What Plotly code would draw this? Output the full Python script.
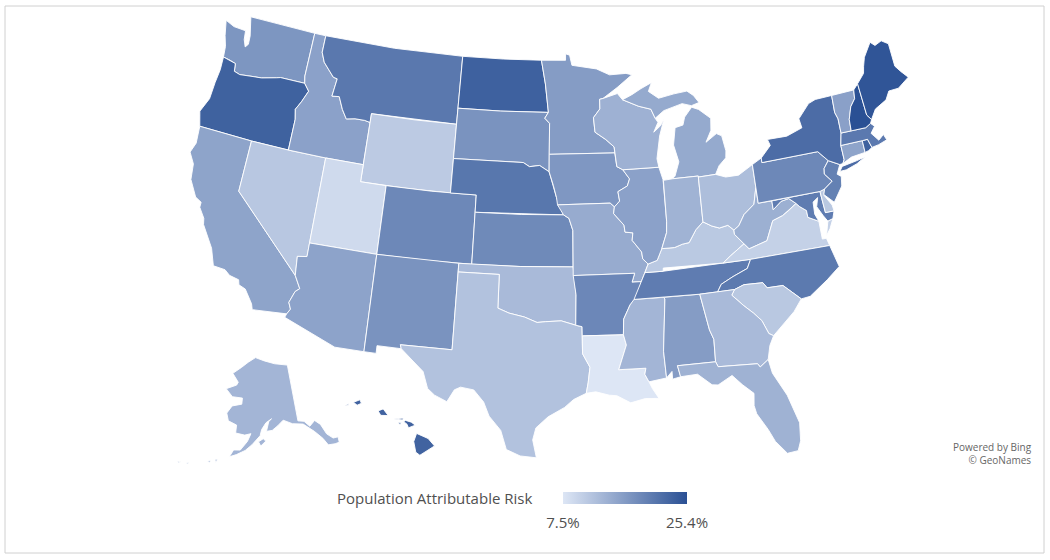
import math
import numpy as np
import plotly.graph_objects as go
from plotly.colors import sample_colorscale

title_text = "Population Attributable Risk"
low_label = "7.5%"
high_label = "25.4%"
credit = "Powered by Bing<br>© GeoNames"
Z_MIN, Z_MAX = 7.5, 25.4
COLORS = [[0, "#dde6f5"], [1, "#2a5094"]]

risk = dict(AL=16.3,AK=13.3,AZ=15.5,AR=18.8,CA=15.4,CO=18.7,CT=15.4,DE=11.1,FL=13.7,GA=12.7,HI=23.1,ID=15.7,IL=15.7,IN=13.6,IA=16.9,KS=18.5,KY=11.0,LA=7.5,ME=24.8,MD=20.1,MA=20.5,MI=14.7,MN=16.3,MS=13.3,MO=14.5,MT=20.6,NE=20.8,NV=11.2,NH=25.4,NJ=19.6,NM=17.4,NY=22.0,NC=20.4,ND=23.4,OH=12.3,OK=12.7,OR=23.3,PA=18.7,RI=23.3,SC=11.1,SD=17.4,TN=20.1,TX=11.8,UT=8.9,VT=15.8,VA=10.0,WA=17.1,WV=14.0,WI=13.8,WY=10.8)

# State outlines: geographic (lon, lat) vertices, simplified.
outlines = {
"WA":[[(-124.7,48.38),(-123.9,48.16),(-122.85,48.12),(-122.75,47.6),(-122.5,47.2),(-122.3,47.4),(-122.35,47.9),(-122.5,48.4),(-122.75,49.0),(-117.03,49.0),(-117.04,46.42),(-116.92,46.0),(-118.98,46.0),(-119.3,45.93),(-120.5,45.7),(-121.2,45.65),(-122.3,45.55),(-122.8,45.65),(-122.9,46.1),(-123.4,46.2),(-124.0,46.27),(-124.1,46.9),(-124.4,47.5)]],
"OR":[[(-124.0,46.27),(-123.4,46.2),(-122.9,46.1),(-122.8,45.65),(-122.3,45.55),(-121.2,45.65),(-120.5,45.7),(-119.3,45.93),(-118.98,46.0),(-116.92,46.0),(-116.46,45.6),(-116.85,44.9),(-117.2,44.4),(-117.03,43.83),(-117.03,42.0),(-120.0,42.0),(-124.21,42.0),(-124.55,42.84),(-124.1,43.7),(-124.05,44.7),(-123.95,45.5)]],
"CA":[[(-124.21,42.0),(-120.0,42.0),(-120.0,39.0),(-114.63,35.0),(-114.14,34.3),(-114.43,34.08),(-114.72,33.4),(-114.52,33.03),(-114.72,32.72),(-117.12,32.53),(-117.25,32.85),(-117.9,33.6),(-118.4,33.75),(-118.5,34.03),(-119.2,34.15),(-119.6,34.4),(-120.47,34.45),(-120.65,34.9),(-120.9,35.4),(-121.9,36.6),(-122.0,36.95),(-122.5,37.5),(-122.5,37.8),(-123.0,38.0),(-123.7,38.9),(-123.85,39.8),(-124.35,40.4),(-124.1,41.0)]],
"NV":[[(-120,42),(-117.03,42),(-114.04,42),(-114.05,36.2),(-114.74,36.1),(-114.63,35.0),(-120,39)]],
"ID":[[(-117.03,49),(-116.05,49),(-116.05,48.0),(-115.7,47.45),(-114.7,46.7),(-114.35,46.65),(-114.5,45.6),(-113.9,45.65),(-113.45,44.95),(-113.0,44.45),(-112.3,44.55),(-111.5,44.55),(-111.05,44.48),(-111.05,42),(-114.04,42),(-117.03,42),(-117.03,43.83),(-117.2,44.4),(-116.85,44.9),(-116.46,45.6),(-116.92,46.0),(-117.04,46.42)]],
"MT":[[(-116.05,49),(-110,49),(-104.05,49),(-104.05,45.0),(-111.05,45.0),(-111.05,44.48),(-111.5,44.55),(-112.3,44.55),(-113.0,44.45),(-113.45,44.95),(-113.9,45.65),(-114.5,45.6),(-114.35,46.65),(-114.7,46.7),(-115.7,47.45),(-116.05,48)]],
"WY":[[(-111.05,45),(-107.5,45),(-104.05,45),(-104.05,41),(-107.5,41),(-111.05,41)]],
"UT":[[(-114.04,42),(-111.05,42),(-111.05,41),(-109.05,41),(-109.05,37),(-114.05,37)]],
"CO":[[(-109.05,41),(-105.5,41),(-102.05,41),(-102.05,37),(-105.5,37),(-109.05,37)]],
"AZ":[[(-114.05,37),(-109.05,37),(-109.05,31.33),(-111.07,31.33),(-114.81,32.5),(-114.72,32.72),(-114.52,33.03),(-114.72,33.4),(-114.43,34.08),(-114.14,34.3),(-114.63,35.0),(-114.74,36.1),(-114.05,36.2)]],
"NM":[[(-109.05,37),(-103.0,37),(-103.04,32),(-106.62,32),(-106.53,31.78),(-108.21,31.78),(-108.21,31.33),(-109.05,31.33)]],
"ND":[[(-104.05,49),(-100.5,49),(-97.23,49),(-96.85,47.6),(-96.56,45.94),(-100.5,45.94),(-104.05,45.94)]],
"SD":[[(-104.05,45.94),(-100.5,45.94),(-96.56,45.94),(-96.85,45.6),(-96.45,45.3),(-96.45,43.5),(-96.44,42.49),(-97.2,42.85),(-98.0,42.77),(-98.5,43.0),(-104.05,43)]],
"NE":[[(-104.05,43),(-98.5,43),(-98,42.77),(-97.2,42.85),(-96.44,42.49),(-96.1,41.7),(-95.85,41),(-95.31,40),(-102.05,40),(-102.05,41),(-104.05,41)]],
"KS":[[(-102.05,40),(-98.5,40),(-95.31,40),(-94.9,39.8),(-94.61,39.1),(-94.62,37),(-98.5,37),(-102.05,37)]],
"OK":[[(-103,37),(-98.5,37),(-94.62,37),(-94.43,35.39),(-94.48,33.64),(-95.5,33.9),(-96.6,33.85),(-97.2,33.8),(-98.1,34.1),(-99.2,34.3),(-100,34.56),(-100,36.5),(-103,36.5)]],
"TX":[[(-103,36.5),(-100,36.5),(-100,34.56),(-99.2,34.3),(-98.1,34.1),(-97.2,33.8),(-96.6,33.85),(-95.5,33.9),(-94.48,33.64),(-94.04,33.55),(-94.04,31.99),(-93.55,31.2),(-93.7,30.3),(-93.84,29.7),(-94.7,29.35),(-95.3,28.9),(-96.4,28.35),(-97.2,27.7),(-97.4,27.0),(-97.15,25.96),(-98.2,26.05),(-99.1,26.4),(-99.5,27.5),(-100.3,28.3),(-100.7,29.1),(-101.4,29.77),(-102.3,29.88),(-102.7,29.7),(-103.15,28.98),(-104.0,29.3),(-104.5,29.65),(-104.9,30.6),(-106.0,31.4),(-106.53,31.78),(-106.62,32),(-103.04,32)]],
"MN":[[(-97.23,49),(-95.15,49),(-95.15,49.38),(-94.8,49.3),(-94.6,48.7),(-93.5,48.55),(-92.5,48.45),(-91.4,48.07),(-90.0,48.1),(-89.5,48.0),(-90.8,47.3),(-92.02,46.7),(-92.3,46.66),(-92.3,46.1),(-92.85,45.6),(-92.75,44.75),(-91.9,44.3),(-91.25,43.85),(-91.22,43.5),(-96.45,43.5),(-96.45,45.3),(-96.85,45.6),(-96.56,45.94),(-96.85,47.6)]],
"IA":[[(-96.45,43.5),(-91.22,43.5),(-91.1,42.7),(-90.64,42.5),(-90.15,41.95),(-90.35,41.55),(-91.1,41.25),(-91.0,40.7),(-91.42,40.38),(-91.73,40.61),(-95.77,40.58),(-95.85,41),(-96.1,41.7),(-96.44,42.49)]],
"MO":[[(-95.77,40.58),(-91.73,40.61),(-91.42,40.38),(-91.5,40.0),(-90.75,39.3),(-90.7,38.9),(-90.12,38.83),(-90.2,38.4),(-89.55,37.7),(-89.5,37.3),(-89.13,36.98),(-89.4,36.5),(-89.7,36.0),(-90.37,36.0),(-90.15,36.5),(-94.62,36.5),(-94.62,37),(-94.61,39.1),(-94.9,39.8),(-95.31,40)]],
"AR":[[(-94.62,36.5),(-90.15,36.5),(-90.37,36),(-89.7,36),(-90.1,35.1),(-90.6,34.7),(-91.1,33.9),(-91.17,33.0),(-94.04,33.02),(-94.04,33.55),(-94.48,33.64),(-94.43,35.39)]],
"LA":[[(-94.04,33.02),(-91.17,33.0),(-91.0,32.4),(-91.6,31.0),(-89.75,31.0),(-89.85,30.65),(-89.6,30.2),(-89.4,29.8),(-89.0,29.2),(-89.9,29.25),(-90.9,29.05),(-91.8,29.5),(-92.3,29.55),(-93.2,29.77),(-93.84,29.7),(-93.7,30.3),(-93.55,31.2),(-94.04,31.99)]],
"MS":[[(-91.17,33),(-91.1,33.9),(-90.6,34.7),(-90.3,35.0),(-88.2,35.0),(-88.1,34.9),(-88.47,31.9),(-88.4,30.35),(-89.6,30.2),(-89.85,30.65),(-89.75,31),(-91.6,31),(-91,32.4)]],
"AL":[[(-88.2,35),(-85.6,34.98),(-85.18,32.87),(-84.95,32.3),(-85.0,31.0),(-87.6,31.0),(-87.45,30.35),(-88.0,30.25),(-88.0,30.7),(-88.4,30.35),(-88.47,31.9),(-88.1,34.9)]],
"TN":[[(-90.3,35),(-88.2,35),(-85.6,34.98),(-84.32,34.99),(-84.0,35.4),(-83.1,35.75),(-82.0,36.1),(-81.68,36.59),(-83.68,36.6),(-88.07,36.5),(-89.4,36.5),(-89.7,36)]],
"KY":[[(-89.4,36.5),(-88.07,36.5),(-88.05,36.68),(-83.68,36.6),(-83.1,36.95),(-82.0,37.53),(-82.6,38.15),(-82.6,38.4),(-83.0,38.72),(-83.65,38.63),(-84.2,38.8),(-84.82,39.1),(-85.4,38.7),(-86.0,38.0),(-86.5,37.95),(-87.1,37.8),(-88.05,37.8),(-88.45,37.15),(-89.13,36.98)]],
"IL":[[(-90.64,42.5),(-87.8,42.5),(-87.55,41.75),(-87.53,39.35),(-87.6,38.7),(-88.05,37.8),(-88.45,37.15),(-89.13,36.98),(-89.5,37.3),(-89.55,37.7),(-90.2,38.4),(-90.12,38.83),(-90.7,38.9),(-90.75,39.3),(-91.5,40),(-91.42,40.38),(-91,40.7),(-91.1,41.25),(-90.35,41.55),(-90.15,41.95)]],
"WI":[[(-92.02,46.7),(-90.8,46.95),(-90.4,46.57),(-89.1,46.13),(-88.1,45.9),(-87.8,45.35),(-87.6,45.1),(-88.0,44.55),(-87.4,44.9),(-87.1,45.25),(-87.55,44.3),(-87.9,43.0),(-87.8,42.5),(-90.64,42.5),(-91.1,42.7),(-91.22,43.5),(-91.25,43.85),(-91.9,44.3),(-92.75,44.75),(-92.85,45.6),(-92.3,46.1),(-92.3,46.66)]],
"MI":[[(-86.82,41.76),(-84.8,41.76),(-84.8,41.7),(-83.45,41.73),(-83.1,42.2),(-82.5,42.6),(-82.42,43.0),(-82.6,43.9),(-83.0,44.07),(-83.9,43.65),(-83.4,44.3),(-83.3,45.0),(-84.2,45.6),(-84.75,45.78),(-85.4,45.25),(-85.6,44.8),(-86.25,44.7),(-86.5,43.7),(-86.2,42.7),(-86.6,41.9)],
      [(-90.4,46.57),(-89.1,46.13),(-88.1,45.9),(-87.8,45.35),(-87.05,45.75),(-86.5,45.85),(-85.5,46.05),(-84.75,45.87),(-84.1,46.0),(-84.5,46.45),(-85.0,46.75),(-86.1,46.67),(-87.4,46.5),(-88.2,46.95),(-87.9,47.45),(-88.8,47.15),(-89.6,46.83)]],
"IN":[[(-87.53,41.72),(-86.82,41.76),(-84.8,41.76),(-84.82,39.1),(-85.4,38.7),(-86,38),(-86.5,37.95),(-87.1,37.8),(-88.05,37.8),(-87.6,38.7),(-87.53,39.35)]],
"OH":[[(-84.8,41.7),(-83.45,41.73),(-82.7,41.5),(-81.7,41.5),(-80.52,41.98),(-80.52,40.64),(-80.85,39.7),(-81.7,39.2),(-82.2,38.6),(-82.6,38.4),(-83,38.72),(-83.65,38.63),(-84.2,38.8),(-84.82,39.1)]],
"WV":[[(-80.52,40.64),(-80.52,39.72),(-79.48,39.72),(-79.48,39.2),(-78.8,39.6),(-78.2,39.68),(-77.72,39.32),(-78.35,39.0),(-78.87,38.77),(-79.65,38.58),(-80.3,37.5),(-81.68,37.2),(-82.0,37.53),(-82.6,38.15),(-82.6,38.4),(-82.2,38.6),(-81.7,39.2),(-80.85,39.7)]],
"VA":[[(-83.68,36.6),(-81.68,36.59),(-75.87,36.55),(-76.0,37.0),(-76.3,37.0),(-76.3,37.6),(-76.3,38.05),(-77.04,38.4),(-77.05,38.8),(-77.5,39.1),(-77.72,39.32),(-78.35,39.0),(-78.87,38.77),(-79.65,38.58),(-80.3,37.5),(-81.68,37.2),(-82,37.53),(-83.1,36.95)],
      [(-75.95,37.15),(-75.65,37.95),(-75.25,38.03),(-75.6,37.5)]],
"NC":[[(-84.32,34.99),(-83.11,35.0),(-82.4,35.2),(-81.05,35.15),(-80.8,34.82),(-79.67,34.8),(-78.55,33.85),(-77.9,33.9),(-76.5,34.65),(-75.5,35.25),(-75.87,36.55),(-81.68,36.59),(-82.0,36.1),(-83.1,35.75),(-84.0,35.4)]],
"SC":[[(-83.11,35),(-82.4,35.2),(-81.05,35.15),(-80.8,34.82),(-79.67,34.8),(-78.55,33.85),(-79.2,33.2),(-79.9,32.7),(-80.85,32.03),(-81.15,32.2),(-81.5,33.0),(-82,33.5),(-82.6,34.0),(-83.35,34.7)]],
"GA":[[(-85.6,34.98),(-84.32,34.99),(-83.11,35),(-83.35,34.7),(-82.6,34.0),(-82,33.5),(-81.5,33),(-81.15,32.2),(-80.85,32.03),(-81.2,31.5),(-81.45,30.72),(-82.05,30.36),(-82.2,30.57),(-84.86,30.7),(-85.0,31),(-84.95,32.3),(-85.18,32.87)]],
"FL":[[(-87.6,31),(-85,31),(-84.86,30.7),(-82.2,30.57),(-82.05,30.36),(-81.45,30.72),(-81.3,29.9),(-80.55,28.5),(-80.03,26.8),(-80.15,25.75),(-80.4,25.2),(-81.1,25.15),(-81.75,25.95),(-82.1,26.7),(-82.7,27.7),(-82.8,28.2),(-82.7,28.9),(-83.4,29.5),(-84.0,30.1),(-85.0,29.65),(-85.4,29.7),(-86.3,30.4),(-87.45,30.35)]],
"MD":[[(-79.48,39.72),(-75.79,39.72),(-75.7,38.46),(-75.05,38.45),(-75.25,38.03),(-75.65,37.95),(-75.9,38.3),(-76.25,38.9),(-76.05,39.4),(-76.45,39.2),(-76.5,38.5),(-76.3,38.05),(-77.04,38.4),(-77.05,38.8),(-77.5,39.1),(-77.72,39.32),(-78.2,39.68),(-78.8,39.6),(-79.48,39.2)]],
"DE":[[(-75.79,39.72),(-75.41,39.8),(-75.55,39.45),(-75.1,38.8),(-75.05,38.45),(-75.7,38.46)]],
"PA":[[(-80.52,41.98),(-79.76,42.27),(-79.76,42.0),(-75.35,42.0),(-74.7,41.36),(-75.13,40.97),(-75.2,40.65),(-74.73,40.15),(-75.41,39.8),(-75.79,39.72),(-80.52,39.72)]],
"NJ":[[(-74.7,41.36),(-73.9,40.99),(-74.25,40.48),(-73.98,40.3),(-74.1,39.75),(-74.9,38.93),(-75.55,39.5),(-75.41,39.8),(-74.73,40.15),(-75.2,40.65),(-75.13,40.97)]],
"NY":[[(-79.76,42.27),(-78.9,42.9),(-79.05,43.27),(-77.5,43.25),(-76.2,43.55),(-76.3,44.1),(-75.3,44.85),(-74.7,45.0),(-73.34,45.01),(-73.4,44.0),(-73.25,43.6),(-73.27,42.75),(-73.5,42.05),(-73.49,41.2),(-73.65,41.0),(-73.9,40.99),(-74.7,41.36),(-75.35,42),(-79.76,42)],
      [(-74.0,40.6),(-73.75,40.85),(-72.6,40.97),(-71.9,41.07),(-72.6,40.8),(-73.5,40.6)]],
"CT":[[(-73.5,42.05),(-71.8,42.02),(-71.8,41.32),(-72.9,41.25),(-73.65,41.0),(-73.49,41.2)]],
"RI":[[(-71.8,42.02),(-71.38,42.02),(-71.2,41.5),(-71.5,41.37),(-71.8,41.32)]],
"MA":[[(-73.5,42.05),(-73.27,42.75),(-71.3,42.7),(-70.85,42.87),(-70.6,42.65),(-71.0,42.3),(-70.55,41.8),(-70.1,42.05),(-69.95,41.7),(-70.65,41.55),(-71.2,41.5),(-71.38,42.02),(-71.8,42.02)]],
"VT":[[(-73.34,45.01),(-71.5,45.01),(-71.6,44.5),(-72.05,44.1),(-72.4,43.4),(-72.46,42.73),(-73.27,42.75),(-73.25,43.6),(-73.4,44)]],
"NH":[[(-71.5,45.01),(-71.08,45.3),(-70.98,43.4),(-70.7,43.07),(-70.85,42.87),(-71.3,42.7),(-72.46,42.73),(-72.4,43.4),(-72.05,44.1),(-71.6,44.5)]],
"ME":[[(-71.08,45.3),(-70.4,45.8),(-70.25,46.2),(-70.0,46.7),(-69.23,47.46),(-68.9,47.2),(-68.3,47.36),(-67.79,47.07),(-67.79,45.7),(-67.45,45.3),(-67.0,44.85),(-68.0,44.4),(-68.8,44.4),(-69.2,43.95),(-70.2,43.6),(-70.7,43.07),(-70.98,43.4)]],
"AK":[[(-141,69.65),(-141,60.3),(-139,60.0),(-137.5,59.0),(-135.5,59.7),(-134,58.8),(-133,57.0),(-131.5,56.0),(-130,55.9),(-130.2,55.0),(-131.5,55.0),(-133.5,55.2),(-134.5,56.5),(-136.5,58.0),(-139.5,59.6),(-143,60.0),(-146,60.8),(-148,60.0),(-150,59.3),(-151.9,59.2),(-151,60.8),(-150,61.2),(-152,60.6),(-153.5,59.5),(-154,58.5),(-156.5,57),(-158.5,56),(-161,55.2),(-163,54.7),(-162,55.9),(-160,56),(-158,57.5),(-157,58.8),(-159,58.5),(-162,58.7),(-162,60),(-165,60.5),(-166,61.7),(-164.5,63),(-161,63.5),(-161,64.5),(-165,64.5),(-168,65.6),(-164,66.5),(-163.5,67),(-166.5,68.3),(-163,69.5),(-160,70.5),(-156.5,71.35),(-152,70.8),(-147,70.2)],
      [(-154.5,57.5),(-153,58),(-152.2,57.6),(-153.8,56.8)],
      [(-167,53.9),(-166.2,54),(-166.6,53.4)],[(-169,53.3),(-168,53.6),(-168.3,53.2)],[(-174.5,52.1),(-173.8,52.3),(-174,52)],[(-177,51.9),(-176,52),(-176.5,51.7)]],
"HI":[[(-155.9,20.25),(-155.2,19.95),(-154.8,19.5),(-155.65,18.92),(-155.9,19.1),(-156.05,19.75)],
      [(-156.7,20.95),(-156.6,21.03),(-156.25,20.93),(-156,20.75),(-156.4,20.58),(-156.5,20.8)],
      [(-158.27,21.57),(-157.97,21.7),(-157.65,21.3),(-158.1,21.3)],
      [(-159.78,22.05),(-159.4,22.22),(-159.3,22.0),(-159.55,21.88)],
      [(-160.25,21.8),(-160.05,22.0),(-160.1,21.85)],
      [(-157.3,21.1),(-156.75,21.17),(-156.75,21.05)],
      [(-157.05,20.9),(-156.85,20.9),(-156.9,20.75)]],
}

# Map registration: geographic anchor → position on the figure.
main_anchors = [(-122.75,49,252,17),(-117,49,315,33),(-116.05,49,325,36),(-104.05,49,462,57),(-111.05,45,370,113),
                (-104.05,45,457,123),(-111.05,41,362,182),(-104.05,41,450,192),(-124.2,42,200,127),(-94.04,33.02,583,335),
                (-91.17,33,623,334),(-81,25.15,790,453),(-85,31,715,363),(-88.2,35,665,297),(-78.55,33.85,802,298),
                (-91.22,43.5,613,153),(-96.45,43.5,548,155),(-87.8,42.5,657,167),(-80.52,41.98,752,167),(-69.23,47.46,877,41),
                (-67,44.85,903,78),(-73.27,42.75,840,133),(-80.52,39.72,758,202),(-97.15,25.96,533,458),
                (-103.15,28.98,447,402),(-103,36.5,458,272),(-100,34.56,498,308),(-100,36.5,500,275),(-94.04,33.55,583,327),
                (-106.53,31.78,402,347),(-103.04,32,452,349),(-102.05,37,472,264),(-94.62,36.5,575,277),
                (-114.63,35,295,275),(-120,39,238,190),(-120,42,251,143),(-117.03,42,290,148),(-114.04,42,326,158),
                (-114.05,37,310,245),(-109.05,37,377,255),(-109.05,31.33,365,352),(-114.81,32.5,285,318),(-117.12,32.53,252,312),
                (-120.47,34.45,212,263)]
alaska_anchors = [(-156.5,71.35,255,359),(-141,69.65,287,364),(-141,60.3,299,421),(-130,55,340,442),(-168,65.6,227,388),(-166,61.7,227,413),(-153,57.5,262,442)]
hawaii_anchors = [(-159.5,22.05,358,402),(-160.15,21.9,347,405),(-158,21.5,383,412),(-156.3,20.8,410,424),(-155.65,18.92,420,455),(-154.8,19.5,434,446),(-155.85,20.25,418,434)]


def albers(lon, lat, lon0, lat0, p1, p2):
    a, b = math.radians(p1), math.radians(p2)
    n = (math.sin(a) + math.sin(b)) / 2
    c = math.cos(a) ** 2 + 2 * n * math.sin(a)
    r = lambda phi: math.sqrt(c - 2 * n * math.sin(math.radians(phi))) / n
    th = n * math.radians(lon - lon0)
    return r(lat) * math.sin(th), r(lat0) - r(lat) * math.cos(th)


def make_projection(anchors, quadratic, *params):
    def basis(lon, lat):
        x, y = albers(lon, lat, *params)
        return [x, y, 1, x * x, x * y, y * y] if quadratic else [x, y, 1]
    src = np.array([basis(lo, la) for lo, la, _, _ in anchors])
    dst = np.array([[px, py] for _, _, px, py in anchors], dtype=float)
    m, *_ = np.linalg.lstsq(src, dst, rcond=None)
    return lambda lon, lat: tuple(np.array(basis(lon, lat)) @ m)


proj_main = make_projection(main_anchors, True, -96, 37.5, 29.5, 45.5)
proj_ak = make_projection(alaska_anchors, False, -154, 50, 55, 65)
proj_hi = make_projection(hawaii_anchors, False, -157, 19.9, 8, 18)
project = {"AK": proj_ak, "HI": proj_hi}

fig = go.Figure()
for state, parts in outlines.items():
    xs, ys = [], []
    proj = project.get(state, proj_main)
    for part in parts:
        pts = [proj(lo, la) for lo, la in part]
        pts.append(pts[0])
        xs += [p[0] for p in pts] + [None]
        ys += [p[1] for p in pts] + [None]
    color = sample_colorscale(COLORS, (risk[state] - Z_MIN) / (Z_MAX - Z_MIN))[0]
    fig.add_trace(go.Scatter(x=xs, y=ys, mode="lines", fill="toself", fillcolor=color,
                             line=dict(color="rgba(255,255,255,0.9)", width=1), name=state,
                             text=f"{state}: {risk[state]}%", hoverinfo="text", showlegend=False))

# Colour scale legend
fig.add_trace(go.Scatter(
    x=[None], y=[None], mode="markers", showlegend=False, hoverinfo="skip",
    marker=dict(color=[Z_MIN, Z_MAX], cmin=Z_MIN, cmax=Z_MAX, colorscale=COLORS, showscale=True,
                colorbar=dict(orientation="h", thickness=12, thicknessmode="pixels", len=124, lenmode="pixels",
                              x=625/1050, xanchor="center", y=1-492/560, yanchor="top", outlinewidth=0,
                              tickvals=[Z_MIN, Z_MAX], ticktext=[low_label, high_label],
                              ticks="outside", ticklen=6, tickcolor="rgba(255,255,255,0)",
                              tickfont=dict(size=15, color="#505050"), xpad=0, ypad=0)),
))

fig.update_layout(
    width=1050, height=560, margin=dict(l=0, r=0, t=0, b=0),
    paper_bgcolor="white", plot_bgcolor="white",
    font=dict(family="Open Sans", color="#505050"),
    xaxis=dict(visible=False, range=[0, 1050], fixedrange=True),
    yaxis=dict(visible=False, range=[560, 0], fixedrange=True),
    shapes=[dict(type="rect", xref="paper", yref="paper", x0=5/1050, x1=1044/1050, y0=1-553/560, y1=1-6/560,
                 line=dict(color="#d0d0d0", width=1))],
    annotations=[
        dict(text=title_text, xref="paper", yref="paper", x=534/1050, y=1-498/560, xanchor="right", yanchor="middle",
             showarrow=False, font=dict(size=15, color="#505050")),
        dict(text=credit, xref="paper", yref="paper", x=1034/1050, y=1-453/560, xanchor="right", yanchor="middle",
             align="right", showarrow=False, font=dict(size=10, color="#666666")),
    ],
)
fig.write_html("out.html", config={"displayModeBar": False}, post_script="document.body.style.margin='0';")
